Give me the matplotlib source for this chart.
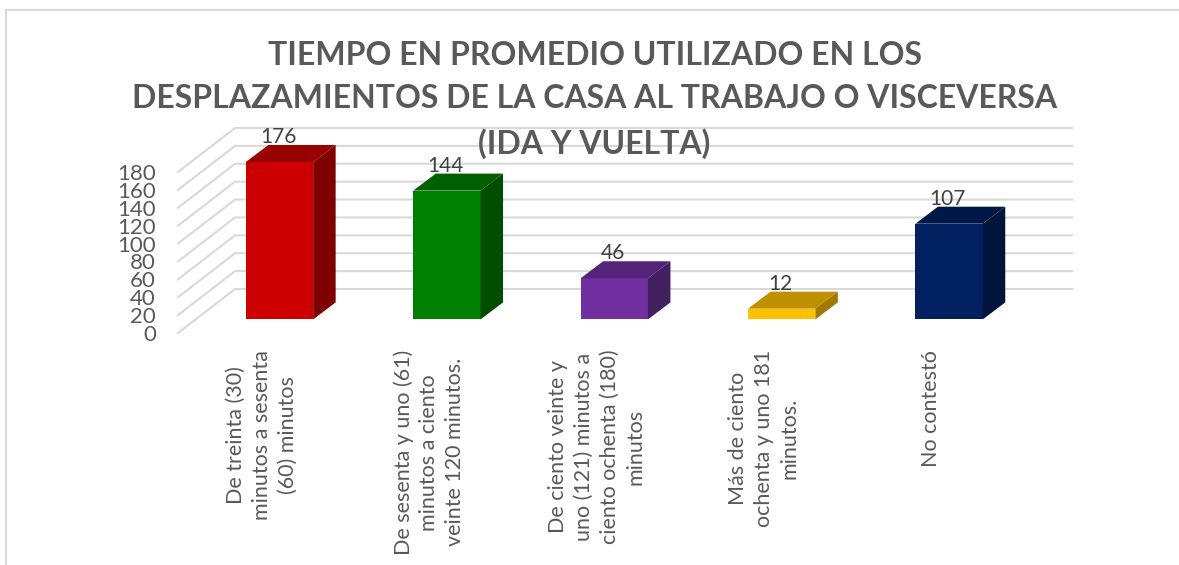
import matplotlib
matplotlib.use('Agg')
import matplotlib.pyplot as plt
from matplotlib.lines import Line2D

plt.rcParams['font.family'] = ['Lato', 'DejaVu Sans']

categories = [
    'De treinta (30)\nminutos a sesenta\n(60) minutos',
    'De sesenta y uno (61)\nminutos a ciento\nveinte 120 minutos.',
    'De ciento veinte y\nuno (121) minutos a\nciento ochenta (180)\nminutos',
    'Más de ciento\nochenta y uno 181\nminutos.',
    'No contestó',
]
values = [176, 144, 46, 12, 107]
front_colors = ['#CC0000', '#008000', '#7030A0', '#FFC000', '#002060']
top_colors = ['#990000', '#006000', '#54247A', '#BF9000', '#001848']
side_colors = ['#7F0000', '#004D00', '#43205F', '#A07A00', '#00143C']
y_ticks = list(range(0, 181, 20))
title = ('TIEMPO EN PROMEDIO UTILIZADO EN LOS\n'
         'DESPLAZAMIENTOS DE LA CASA AL TRABAJO O VISCEVERSA\n'
         '(IDA Y VUELTA)')

W, H = 1179, 565
fig = plt.figure(figsize=(W / 100, H / 100), dpi=100)
ax = fig.add_axes([178 / W, (H - 333) / H, 837 / W, 161 / H])
ax.set_xlim(-0.5, 4.5)
ax.set_ylim(0, 180)
for s in ax.spines.values():
    s.set_visible(False)

# falso 3D: profundidad del piso en unidades de los ejes
px_x = 5 / 837
px_y = 180 / 161
depth_x, depth_y = 57 * px_x, 44 * px_y
bar_x, bar_y = 17.8 * px_x, 13.6 * px_y
bar_dx, bar_dy = 22.5 * px_x, 17 * px_y
bar_w = 67.3 * px_x

# lineas de la pared
for t in y_ticks:
    ax.plot([-0.5, -0.5 + depth_x, 4.5 + depth_x], [t, t + depth_y, t + depth_y],
            color='#D9D9D9', lw=1.5, clip_on=False, zorder=1, solid_joinstyle='miter')

# barras
for i, v in enumerate(values):
    x0 = i + bar_x - bar_w / 2
    x1 = x0 + bar_w
    y0 = bar_y
    y1 = bar_y + v
    ax.bar(x0, v, bar_w, bottom=y0, align='edge', color=front_colors[i], zorder=3, clip_on=False)
    ax.fill([x0, x1, x1 + bar_dx, x0 + bar_dx], [y1, y1, y1 + bar_dy, y1 + bar_dy],
            color=top_colors[i], lw=0, zorder=3, clip_on=False)
    ax.fill([x1, x1 + bar_dx, x1 + bar_dx, x1], [y0, y0 + bar_dy, y1 + bar_dy, y1],
            color=side_colors[i], lw=0, zorder=3, clip_on=False)
    ax.annotate(str(v), (i + bar_x, y1), xytext=(-1, 18), textcoords='offset points',
                ha='center', va='center', fontsize=15, color='#404040', zorder=5,
                annotation_clip=False)

ax.set_yticks(y_ticks)
ax.set_xticks(range(len(categories)))
ax.set_xticklabels(categories, rotation=90, ha='center', va='top', multialignment='center',
                   linespacing=1.36)
ax.tick_params(axis='both', length=0, labelcolor='#595959')
ax.tick_params(axis='y', pad=16, labelsize=16)
ax.tick_params(axis='x', pad=12, labelsize=15.5)

fig.text(594.5 / W, 1 - 100 / H, title, ha='center', va='center', fontsize=23, fontweight='bold',
         color='#595959', linespacing=1.6, zorder=6)

# marco del grafico: solo se ve arriba y a la izquierda
fig.add_artist(Line2D([5.5 / W, 5.5 / W, 1], [0, 1 - 9.5 / H, 1 - 9.5 / H],
                      color='#D9D9D9', lw=1.5))

fig.savefig('out.png', dpi=100)
